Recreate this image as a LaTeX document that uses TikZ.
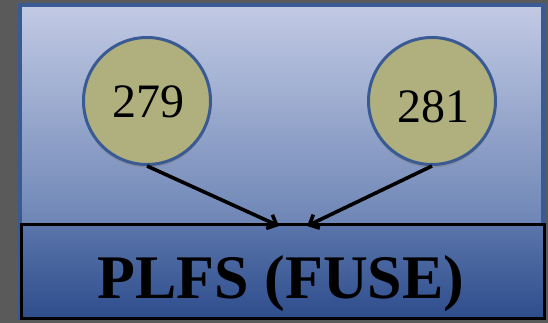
\documentclass[tikz,border=0pt]{standalone}
\usepackage{fontspec}
\setmainfont{Liberation Serif}
\usetikzlibrary{shadows,arrows.meta}
\definecolor{bgGrey}{HTML}{5A5A5A}
\definecolor{topA}{HTML}{C2CAE4}
\definecolor{topB}{HTML}{6D85B5}
\definecolor{botA}{HTML}{5A75AB}
\definecolor{botB}{HTML}{2E4D8C}
\definecolor{edgeBlue}{HTML}{3A5A94}
\definecolor{khaki}{HTML}{B0B07F}
\tikzset{
  numcircle/.style={circle, draw=edgeBlue, line width=3pt, fill=khaki,
    minimum size=127pt, inner sep=0pt,
    drop shadow={opacity=0.5, shadow xshift=0pt, shadow yshift=-3pt}},
  numtext/.style={font=\fontsize{48}{48}\selectfont, anchor=base},
  conn/.style={line width=3.6pt, -{Straight Barb[length=8pt,width=15pt,line width=3.6pt]}}
}
\begin{document}
\begin{tikzpicture}[x=1pt,y=1pt]
\useasboundingbox (0,0) rectangle (548,323);
\fill[bgGrey] (0,0) rectangle (548,323);
% upper region
\shade[top color=topA, bottom color=topB] (20,97) rectangle (543,318);
\draw[edgeBlue, line width=3.5pt] (20,3) -- (20,318) -- (543,318) -- (543,3);
% lower box
\node[draw=black, line width=3pt, top color=botA, bottom color=botB,
  minimum width=523pt, minimum height=94pt, inner sep=0pt, anchor=south west]
  (plfs) at (20,3) {};
\node[font=\fontsize{62}{62}\selectfont\bfseries, anchor=base] (plfstxt) at (281,24) {PLFS (FUSE)};
% circles
\node[numcircle] (c1) at (147,222) {};
\node[numcircle] (c2) at (432,222) {};
\node[numtext] (t1) at (148,205) {279};
\node[numtext] (t2) at (433,200) {281};
% arrow ends
\coordinate (e1) at (279,97);
\coordinate (e2) at (307,97);
\draw[conn] (c1.south) -- (e1);
\draw[conn] (c2.south) -- (e2);
\end{tikzpicture}
\end{document}
